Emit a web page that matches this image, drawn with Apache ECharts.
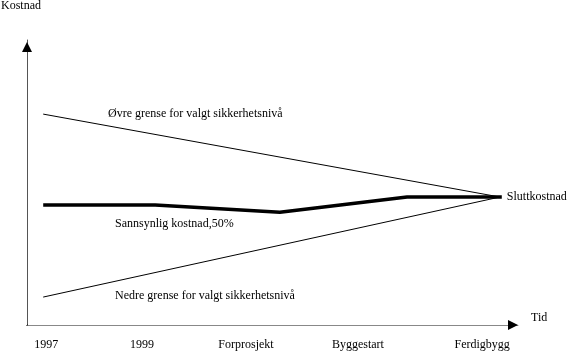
<!DOCTYPE html>
<html>
<head>
<meta charset="utf-8">
<script src="https://cdn.jsdelivr.net/npm/echarts@6/dist/echarts.min.js"></script>
<style>
  html, body { margin: 0; padding: 0; background: #fff; }
  #chart { width: 567px; height: 352px; }
</style>
</head>
<body>
<div id="chart"></div>
<script>
// time axis runs 0..100, cost axis 0..100 (relative units)
const milestones = ["1997", "1999", "Forprosjekt", "Byggestart", "Ferdigbygg"];
const milestoneX = [3.9, 23.4, 44.6, 67.4, 92.7];

const likelyCost = [[3.3, 42.1], [26.1, 42.1], [51.5, 39.6], [77.4, 44.9], [96.7, 44.9]];
const upperLimit = [[3.3, 74.0], [96.3, 44.9]];
const lowerLimit = [[3.3, 9.8], [96.3, 44.9]];

const font = "'Liberation Serif', 'DejaVu Serif', serif";
const text12 = { fontFamily: font, fontSize: 12, color: "#000" };

const chart = echarts.init(document.getElementById("chart"));

// overlay axes: only draw the black arrow heads (line itself dashed away)
const arrowOnly = (size, offset) => ({
  show: true,
  lineStyle: { color: "#000", width: 1, type: [0, 5000] },
  symbol: ["none", "triangle"],
  symbolSize: size,
  symbolOffset: [0, offset],
});

const option = {
  animation: false,
  grid: { left: 27, top: 40, width: 491, height: 285, outerBoundsMode: "none", containLabel: false },
  textStyle: { fontFamily: font, color: "#000" },
  xAxis: [
    {
      type: "value",
      min: 0,
      max: 100,
      position: "bottom",
      name: "Tid",
      nameGap: 13,
      nameTextStyle: { ...text12, verticalAlign: "bottom", padding: [0, 0, 1, 0] },
      axisLine: { lineStyle: { color: "#888", width: 1 } },
      axisTick: { show: false },
      splitLine: { show: false },
      axisLabel: {
        ...text12,
        customValues: milestoneX,
        margin: 14,
        formatter: (v) => milestones[milestoneX.indexOf(v)] ?? "",
      },
    },
    {
      type: "value",
      min: 0,
      max: 100,
      position: "bottom",
      axisLine: arrowOnly([10, 10], -5),
      axisTick: { show: false },
      axisLabel: { show: false },
      splitLine: { show: false },
    },
  ],
  yAxis: [
    {
      type: "value",
      min: 0,
      max: 100,
      position: "left",
      name: "Kostnad",
      nameGap: 28,
      nameTextStyle: { ...text12, align: "center", padding: [0, 12, 0, 0] },
      axisLine: { show: true, lineStyle: { color: "#555", width: 1 } },
      axisTick: { show: false },
      axisLabel: { show: false },
      splitLine: { show: false },
    },
    {
      type: "value",
      min: 0,
      max: 100,
      position: "left",
      axisLine: arrowOnly([10, 10], -7),
      axisTick: { show: false },
      axisLabel: { show: false },
      splitLine: { show: false },
    },
  ],
  series: [
    {
      type: "line",
      name: "Øvre grense",
      data: upperLimit,
      showSymbol: false,
      lineStyle: { color: "#000", width: 1 },
    },
    {
      type: "line",
      name: "Nedre grense",
      data: lowerLimit,
      showSymbol: false,
      lineStyle: { color: "#000", width: 1 },
    },
    {
      type: "line",
      name: "Sannsynlig kostnad",
      data: likelyCost,
      showSymbol: false,
      lineStyle: { color: "#000", width: 3.5 },
      endLabel: {
        ...text12,
        show: true,
        formatter: "Sluttkostnad",
        distance: 5,
      },
    },
  ],
  graphic: [
    { type: "text", left: 108, top: 108, style: { text: "Øvre grense for valgt sikkerhetsnivå", font: "12px " + font, fill: "#000" } },
    { type: "text", left: 115, top: 218, style: { text: "Sannsynlig kostnad,50%", font: "12px " + font, fill: "#000" } },
    { type: "text", left: 115, top: 290, style: { text: "Nedre grense for valgt sikkerhetsnivå", font: "12px " + font, fill: "#000" } },
  ],
};

chart.setOption(option);
</script>
</body>
</html>
